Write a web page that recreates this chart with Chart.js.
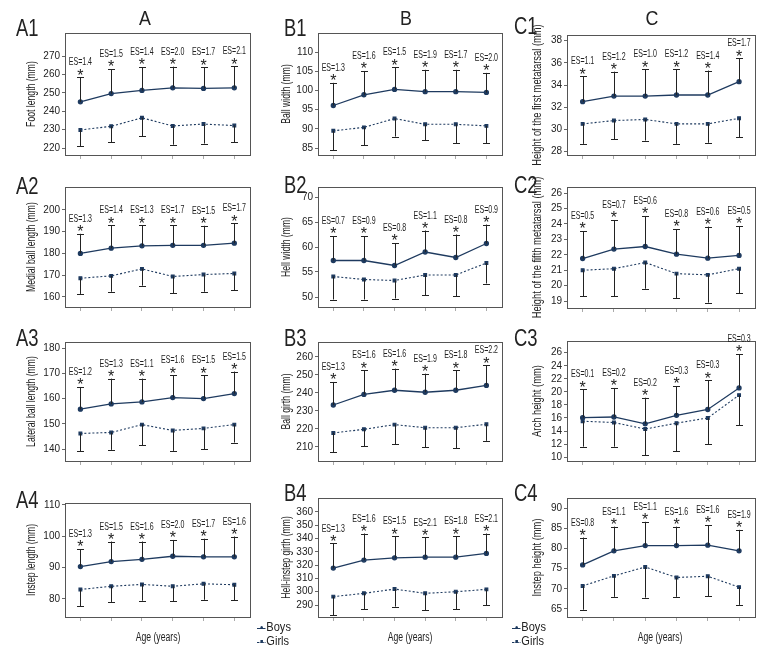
<!DOCTYPE html>
<html><head><meta charset="utf-8">
<script src="https://cdn.jsdelivr.net/npm/chart.js@4"></script>
<style>
body{margin:0;background:#fff;width:780px;height:660px;position:relative;overflow:hidden;font-family:'Liberation Sans',Arial,sans-serif;color:#222}
canvas{position:absolute}
.pl{position:absolute;font-size:23px;line-height:1;white-space:nowrap;transform:scaleX(0.8);transform-origin:0 0}
.hd{position:absolute;font-size:21px;line-height:1;transform:translateX(-50%) scaleX(0.85)}
.ax{position:absolute;font-size:12px;line-height:1;transform:translateX(-50%) scaleX(0.72);white-space:nowrap}
.lg{position:absolute;font-size:13px;line-height:1;white-space:nowrap;transform:scaleX(0.85);transform-origin:0 0}
.mk{display:inline-block;position:relative;width:10px;height:8px;margin-right:1px;vertical-align:middle}
.mk i{position:absolute;left:0;right:0;top:4px;border-top:1px solid #1e3a5f}
.mk.d i{border-top:1px dotted #1e3a5f}
.mk b{position:absolute;left:3.5px;top:2.5px;width:3px;height:3px;background:#1e3a5f;border-radius:50%}
.mk.d b{border-radius:0}
</style></head><body>
<script>
// ---------- DATA ----------
const ageGroups = ['1','2','3','4','5','6'];

const A1_ticks = [220,230,240,250,260,270];
const A1_boys = [245.1,249.6,251.3,252.7,252.4,252.7];
const A1_boysUpper = [258.4,262.9,264.0,264.2,263.8,264.5];
const A1_girls = [229.8,231.8,236.4,232.0,233.0,232.2];
const A1_girlsLower = [221.1,223.0,226.3,221.8,222.4,223.0];
const A1_es = ['1.4','1.5','1.4','2.0','1.7','2.1'];

const A2_ticks = [160,170,180,190,200];
const A2_boys = [180.0,182.4,183.5,183.7,183.7,184.7];
const A2_boysUpper = [189.0,192.9,192.9,192.9,192.7,193.9];
const A2_girls = [168.6,169.7,172.9,169.4,170.3,170.8];
const A2_girlsLower = [161.4,162.4,165.2,161.8,162.4,163.2];
const A2_es = ['1.3','1.4','1.3','1.7','1.5','1.7'];

const A3_ticks = [140,150,160,170,180];
const A3_boys = [155.8,157.9,158.7,160.4,160.0,162.0];
const A3_boysUpper = [164.6,167.9,167.9,169.2,169.2,170.7];
const A3_girls = [146.2,146.6,149.7,147.4,148.2,149.7];
const A3_girlsLower = [139.2,139.7,141.6,139.3,140.0,142.6];
const A3_es = ['1.2','1.3','1.1','1.6','1.5','1.5'];

const A4_ticks = [80,90,100,110];
const A4_boys = [90.3,91.9,92.6,93.6,93.4,93.4];
const A4_boysUpper = [95.9,98.3,98.3,98.8,99.2,99.9];
const A4_girls = [83.0,84.0,84.6,84.0,84.8,84.5];
const A4_girlsLower = [77.7,79.0,79.4,79.2,79.7,79.6];
const A4_es = ['1.3','1.5','1.6','2.0','1.7','1.6'];

const B1_ticks = [85,90,95,100,105,110];
const B1_boys = [96.1,98.9,100.3,99.7,99.7,99.5];
const B1_boysUpper = [102.0,105.1,106.1,105.4,105.4,104.6];
const B1_girls = [89.5,90.4,92.7,91.2,91.2,90.8];
const B1_girlsLower = [84.5,85.8,88.0,87.0,86.3,86.3];
const B1_es = ['1.3','1.6','1.5','1.9','1.7','2.0'];

const B2_ticks = [50,55,60,65,70];
const B2_boys = [57.3,57.3,56.3,59.0,57.9,60.7];
const B2_boysUpper = [62.2,62.2,60.8,63.3,62.5,64.5];
const B2_girls = [54.1,53.5,53.3,54.4,54.4,56.8];
const B2_girlsLower = [49.5,49.5,49.7,50.4,50.2,52.7];
const B2_es = ['0.7','0.9','0.8','1.1','0.8','0.9'];

const B3_ticks = [210,220,230,240,250,260];
const B3_boys = [233.3,239.2,241.5,240.4,241.5,244.2];
const B3_boysUpper = [246.1,252.6,253.5,250.7,252.6,255.4];
const B3_girls = [217.8,219.8,222.4,220.7,220.7,222.6];
const B3_girlsLower = [207.0,210.4,211.5,209.8,209.4,213.4];
const B3_es = ['1.3','1.6','1.6','1.9','1.8','2.2'];

const B4_ticks = [290,300,310,320,330,340,350,360];
const B4_boys = [317.8,323.8,325.5,326.0,326.0,328.8];
const B4_boysUpper = [336.3,343.8,341.8,340.8,341.8,343.8];
const B4_girls = [296.3,298.8,302.0,298.8,300.0,301.8];
const B4_girlsLower = [282.5,287.0,288.8,286.0,286.8,290.0];
const B4_es = ['1.3','1.6','1.5','2.1','1.8','2.1'];

const C1_ticks = [28,30,32,34,36,38];
const C1_boys = [32.5,33.0,33.0,33.1,33.1,34.3];
const C1_boysUpper = [34.8,35.2,35.4,35.4,35.3,36.4];
const C1_girls = [30.5,30.8,30.9,30.5,30.5,31.0];
const C1_girlsLower = [28.7,29.1,29.0,28.7,28.8,29.3];
const C1_es = ['1.1','1.2','1.0','1.2','1.4','1.7'];

const C2_ticks = [19,20,21,22,23,24,25,26];
const C2_boys = [21.76,22.37,22.54,22.04,21.78,21.96];
const C2_boysUpper = [23.54,24.26,24.52,23.67,23.83,23.87];
const C2_girls = [21.0,21.1,21.5,20.78,20.7,21.1];
const C2_girlsLower = [19.3,19.3,19.8,19.2,18.9,19.5];
const C2_es = ['0.5','0.7','0.6','0.8','0.6','0.5'];

const C3_ticks = [10,12,14,16,18,20,22,24,26];
const C3_boys = [16.05,16.15,15.1,16.4,17.3,20.6];
const C3_boysUpper = [20.4,20.6,19.1,20.9,21.8,25.8];
const C3_girls = [15.5,15.3,14.3,15.2,16.0,19.5];
const C3_girlsLower = [11.6,11.6,10.3,10.9,12.0,14.9];
const C3_es = ['0.1','0.2','0.2','0.3','0.3','0.3'];

const C4_ticks = [65,70,75,80,85,90];
const C4_boys = [75.9,79.4,80.7,80.7,80.8,79.4];
const C4_boysUpper = [82.7,85.4,86.6,85.4,85.8,84.6];
const C4_girls = [70.7,73.2,75.4,72.8,73.1,70.4];
const C4_girlsLower = [64.8,68.0,67.8,68.0,68.1,66.0];
const C4_es = ['0.8','1.1','1.1','1.6','1.6','1.9'];

// ---------- LAYOUT ----------
const cols = {A:{left:65,right:250,w:42,tx:33,ts:0.72}, B:{left:318,right:502,w:40,tx:31,ts:0.72}, C:{left:567,right:755,w:38,tx:29,ts:0.78}};
const panels = [
 {id:'A1',col:'A',top:33,bottom:155,min:216.2,max:282.5,title:'Foot length (mm)',ticks:A1_ticks,boys:A1_boys,hi:A1_boysUpper,girls:A1_girls,lo:A1_girlsLower,es:A1_es},
 {id:'A2',col:'A',top:187,bottom:307,min:155.4,max:210.5,title:'Medial ball length (mm)',ticks:A2_ticks,boys:A2_boys,hi:A2_boysUpper,girls:A2_girls,lo:A2_girlsLower,es:A2_es},
 {id:'A3',col:'A',top:342,bottom:461,min:135.3,max:182.4,title:'Lateral ball length (mm)',ticks:A3_ticks,boys:A3_boys,hi:A3_boysUpper,girls:A3_girls,lo:A3_girlsLower,es:A3_es},
 {id:'A4',col:'A',top:503,bottom:617,min:74.2,max:110.6,title:'Instep length (mm)',ticks:A4_ticks,boys:A4_boys,hi:A4_boysUpper,girls:A4_girls,lo:A4_girlsLower,es:A4_es},
 {id:'B1',col:'B',top:33,bottom:155,min:83.2,max:115,title:'Ball width (mm)',ticks:B1_ticks,boys:B1_boys,hi:B1_boysUpper,girls:B1_girls,lo:B1_girlsLower,es:B1_es},
 {id:'B2',col:'B',top:187,bottom:307,min:48,max:72,title:'Hell width (mm)',ticks:B2_ticks,boys:B2_boys,hi:B2_boysUpper,girls:B2_girls,lo:B2_girlsLower,es:B2_es},
 {id:'B3',col:'B',top:342,bottom:461,min:202.2,max:268.3,title:'Ball girth (mm)',ticks:B3_ticks,boys:B3_boys,hi:B3_boysUpper,girls:B3_girls,lo:B3_girlsLower,es:B3_es},
 {id:'B4',col:'B',top:498,bottom:617,min:281,max:370.5,title:'Hell-instep girth (mm)',ticks:B4_ticks,boys:B4_boys,hi:B4_boysUpper,girls:B4_girls,lo:B4_girlsLower,es:B4_es},
 {id:'C1',col:'C',top:35,bottom:155,min:27.7,max:38.5,title:'Height of the first metatarsal (mm)',ticks:C1_ticks,boys:C1_boys,hi:C1_boysUpper,girls:C1_girls,lo:C1_girlsLower,es:C1_es},
 {id:'C2',col:'C',top:187,bottom:308,min:18.55,max:26.4,title:'Height of the fifth metatarsal (mm)',ticks:C2_ticks,boys:C2_boys,hi:C2_boysUpper,girls:C2_girls,lo:C2_girlsLower,es:C2_es},
 {id:'C3',col:'C',top:341,bottom:461,min:9.4,max:27.8,title:'Arch height (mm)',ticks:C3_ticks,boys:C3_boys,hi:C3_boysUpper,girls:C3_girls,lo:C3_girlsLower,es:C3_es},
 {id:'C4',col:'C',top:498,bottom:617,min:63,max:92.5,title:'Instep height (mm)',ticks:C4_ticks,boys:C4_boys,hi:C4_boysUpper,girls:C4_girls,lo:C4_girlsLower,es:C4_es}
];
const FONT = "'Liberation Sans',Arial,sans-serif";
const NAVY = '#1e3a5f';
const PT = 32, PB = 12, PR = 5;

function makePlugin(p, c){
  return {
    id:'errbars'+p.id,
    afterDraw(chart){
      const ctx = chart.ctx, xs = chart.scales.x, ys = chart.scales.y, a = chart.chartArea;
      ctx.save();
      ctx.strokeStyle = '#555'; ctx.lineWidth = 1;
      ctx.strokeRect(Math.round(a.left)+0.5, Math.round(a.top)+0.5, Math.round(a.right-a.left), Math.round(a.bottom-a.top));
      ctx.strokeStyle = '#222';
      const cap = 3.5;
      const seg = (x,y0,y1)=>{
        x = Math.round(x)+0.5;
        ctx.beginPath(); ctx.moveTo(x,y0); ctx.lineTo(x,y1);
        ctx.moveTo(x-cap,Math.round(y1)+0.5); ctx.lineTo(x+cap,Math.round(y1)+0.5); ctx.stroke();
      };
      p.boys.forEach((m,i)=>{ seg(xs.getPixelForValue(i), ys.getPixelForValue(m), ys.getPixelForValue(p.hi[i])); });
      p.girls.forEach((m,i)=>{ seg(xs.getPixelForValue(i), ys.getPixelForValue(m), ys.getPixelForValue(p.lo[i])); });
      ctx.fillStyle = '#222';
      ctx.textAlign = 'center'; ctx.textBaseline = 'middle';
      p.es.forEach((e,i)=>{
        const x = xs.getPixelForValue(i), top = ys.getPixelForValue(p.hi[i]);
        ctx.font = '16px ' + FONT;
        ctx.fillText('*', x, top - 1);
        ctx.save(); ctx.translate(x, top - 15); ctx.scale(0.64,1);
        ctx.font = '11px ' + FONT;
        ctx.fillText('ES=' + e, 0, 0);
        ctx.restore();
      });
      // y-axis title, condensed
      ctx.save();
      ctx.translate(a.left - c.tx, (a.top + a.bottom)/2);
      ctx.rotate(-Math.PI/2); ctx.scale(c.ts,1);
      ctx.font = '12px ' + FONT;
      ctx.fillText(p.title, 0, 0);
      ctx.restore();
      ctx.restore();
    }
  };
}

panels.forEach(p=>{
  const c = cols[p.col];
  const boxW = c.right - c.left, boxH = p.bottom - p.top;
  const cv = document.createElement('canvas');
  const W = c.w + boxW + PR, H = PT + boxH + PB;
  cv.width = W; cv.height = H;
  cv.style.left = (c.left - c.w) + 'px';
  cv.style.top = (p.top - PT) + 'px';
  cv.style.width = W + 'px'; cv.style.height = H + 'px';
  document.body.appendChild(cv);
  new Chart(cv, {
    type:'line',
    data:{
      labels: ageGroups,
      datasets:[
        {label:'Boys', data:p.boys, borderColor:NAVY, backgroundColor:NAVY, borderWidth:1.3, pointRadius:2, pointStyle:'circle', tension:0, clip:false},
        {label:'Girls', data:p.girls, borderColor:NAVY, backgroundColor:NAVY, borderWidth:1.1, borderDash:[2,2], pointRadius:2, pointStyle:'rect', tension:0, clip:false}
      ]
    },
    options:{
      responsive:false, animation:false, devicePixelRatio:1,
      layout:{padding:{top:PT,right:PR,bottom:0,left:0}},
      plugins:{legend:{display:false}, tooltip:{enabled:false}},
      scales:{
        x:{type:'category', offset:true,
           grid:{display:true, drawOnChartArea:false, drawTicks:true, tickLength:4, color:'#aaa'},
           border:{display:false}, ticks:{display:false},
           afterFit:(s)=>{ s.height = PB; }},
        y:{type:'linear', min:p.min, max:p.max,
           grid:{display:true, drawOnChartArea:false, drawTicks:true, tickLength:3, color:'#666'},
           border:{display:false},
           ticks:{color:'#222', font:{family:FONT, size:10}, padding:2},
           afterBuildTicks:(s)=>{ s.ticks = p.ticks.map(v=>({value:v})); },
           title:{display:false},
           afterFit:(s)=>{ s.width = c.w; }}
      }
    },
    plugins:[makePlugin(p, c)]
  });
});

// panel labels, headers, axis labels, legends
const labels = [
 ['A1',16,17],['B1',284,17],['C1',514,15],
 ['A2',16,175],['B2',284,174],['C2',514,174],
 ['A3',16,327],['B3',284,327],['C3',514,327],
 ['A4',16,489],['B4',284,482],['C4',514,482]
];
labels.forEach(([t,x,y])=>{ const d=document.createElement('div'); d.className='pl'; d.textContent=t; d.style.left=x+'px'; d.style.top=y+'px'; document.body.appendChild(d); });
[['A',145],['B',406],['C',652]].forEach(([t,x])=>{ const d=document.createElement('div'); d.className='hd'; d.textContent=t; d.style.left=x+'px'; d.style.top='7px'; document.body.appendChild(d); });
[158,410,660].forEach(x=>{ const d=document.createElement('div'); d.className='ax'; d.textContent='Age (years)'; d.style.left=x+'px'; d.style.top='631px'; document.body.appendChild(d); });
[257,512].forEach(x=>{
  [['Boys',620,''],['Girls',634,' d']].forEach(([t,y,cls])=>{
    const d=document.createElement('div'); d.className='lg'; d.style.left=x+'px'; d.style.top=y+'px';
    d.innerHTML='<span class="mk'+cls+'"><i></i><b></b></span>'+t;
    document.body.appendChild(d);
  });
});
</script>
</body></html>
